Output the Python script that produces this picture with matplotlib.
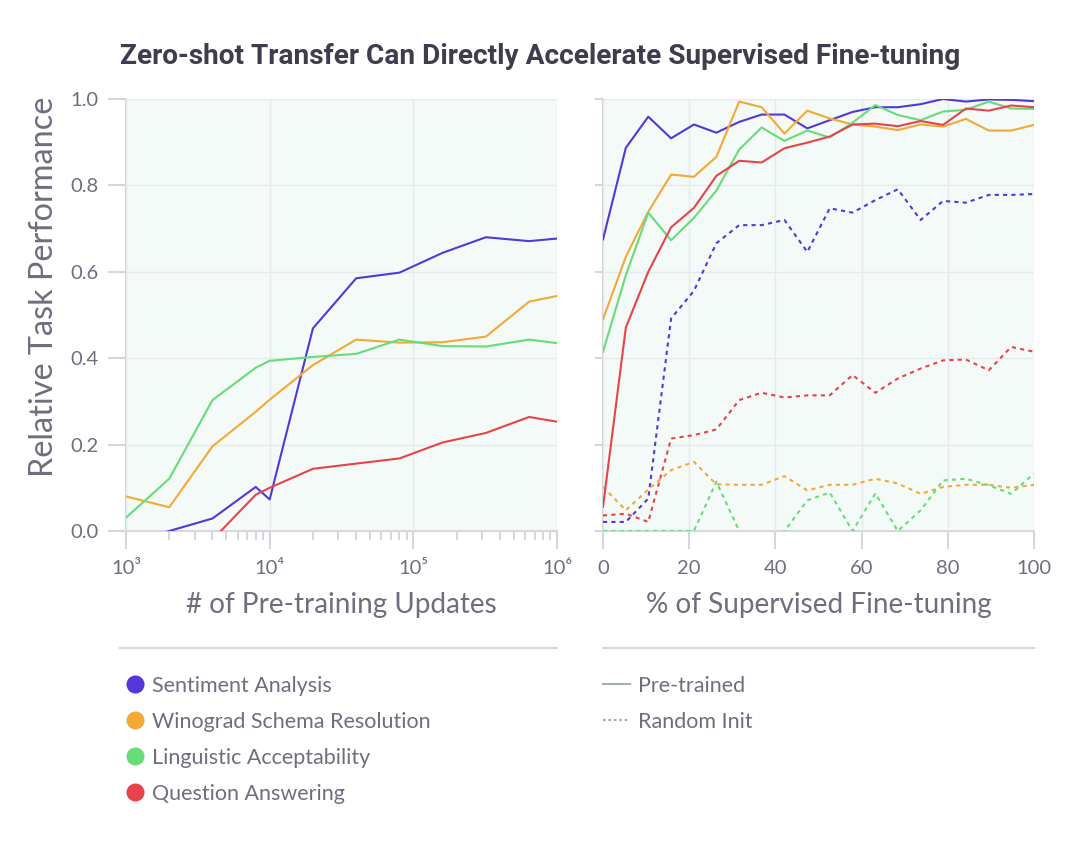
import numpy as np
import matplotlib
matplotlib.use("Agg")
import matplotlib.pyplot as plt
from matplotlib.lines import Line2D
from matplotlib.ticker import FixedLocator, FixedFormatter, LogLocator, NullFormatter

# ---------------- data ----------------
tasks = ["Sentiment Analysis", "Winograd Schema Resolution",
         "Linguistic Acceptability", "Question Answering"]
task_colors = ["#5436da", "#f4a935", "#68dc78", "#e8434a"]
init_labels = ["Pre-trained", "Random Init"]

title = "Zero-shot Transfer Can Directly Accelerate Supervised Fine-tuning"
ylabel = "Relative Task Performance"
xlabel_left = "# of Pre-training Updates"
xlabel_right = "% of Supervised Fine-tuning"

yticks = [0.0, 0.2, 0.4, 0.6, 0.8, 1.0]
ytick_labels = ["0.0", "0.2", "0.4", "0.6", "0.8", "1.0"]
xticks_left = [1e3, 1e4, 1e5, 1e6]
xtick_labels_left = ["10³", "10⁴", "10⁵", "10⁶"]
xticks_right = [0, 20, 40, 60, 80, 100]
xtick_labels_right = ["0", "20", "40", "60", "80", "100"]

# left panel: zero-shot performance vs. pre-training updates
pretrain_updates = [1000, 2000, 4000, 8000, 10000, 20000, 40000, 80000,
                    160000, 320000, 640000, 1000000]
zs_sentiment = [-0.03, 0.0, 0.029, 0.102, 0.073, 0.469, 0.585, 0.598, 0.644, 0.680, 0.671, 0.677]
zs_winograd = [0.080, 0.055, 0.196, 0.276, 0.304, 0.384, 0.443, 0.436, 0.437, 0.450, 0.531, 0.544]
zs_linguistic = [0.031, 0.121, 0.303, 0.378, 0.394, 0.403, 0.410, 0.443, 0.428, 0.427, 0.443, 0.435]
zs_qa = [-0.15, -0.08, -0.02, 0.084, 0.100, 0.144, 0.156, 0.168, 0.205, 0.227, 0.264, 0.253]

# right panel: performance vs. % of supervised fine-tuning
finetune_pct = [0, 5.3, 10.5, 15.8, 21.1, 26.3, 31.6, 36.8, 42.1, 47.4,
                52.6, 57.9, 63.2, 68.4, 73.7, 78.9, 84.2, 89.5, 94.7, 100]
pt_sentiment = [0.675, 0.887, 0.959, 0.909, 0.941, 0.922, 0.947, 0.964, 0.964, 0.932,
                0.951, 0.970, 0.981, 0.981, 0.988, 1.0, 0.994, 0.999, 0.998, 0.995]
pt_winograd = [0.490, 0.635, 0.739, 0.825, 0.820, 0.866, 0.994, 0.981, 0.920, 0.973,
               0.955, 0.941, 0.936, 0.928, 0.941, 0.936, 0.954, 0.927, 0.927, 0.940]
pt_linguistic = [0.415, 0.592, 0.737, 0.673, 0.725, 0.788, 0.883, 0.934, 0.903, 0.927,
                 0.911, 0.945, 0.986, 0.963, 0.951, 0.971, 0.975, 0.994, 0.978, 0.977]
pt_qa = [0.056, 0.471, 0.600, 0.703, 0.748, 0.822, 0.857, 0.853, 0.886, 0.899,
         0.913, 0.941, 0.943, 0.937, 0.949, 0.940, 0.978, 0.973, 0.985, 0.981]
ri_sentiment = [0.021, 0.021, 0.075, 0.492, 0.556, 0.666, 0.708, 0.708, 0.720, 0.646,
                0.747, 0.737, 0.766, 0.791, 0.720, 0.764, 0.760, 0.778, 0.778, 0.780]
ri_winograd = [0.102, 0.048, 0.096, 0.141, 0.160, 0.108, 0.107, 0.107, 0.127, 0.094,
               0.107, 0.107, 0.121, 0.110, 0.086, 0.102, 0.107, 0.107, 0.100, 0.107]
ri_linguistic = [0.0, 0.0, 0.0, 0.0, 0.0, 0.114, 0.0, -0.05, 0.0, 0.071,
                 0.089, 0.0, 0.087, 0.0, 0.048, 0.117, 0.121, 0.106, 0.086, 0.133]
ri_qa = [0.036, 0.040, 0.021, 0.214, 0.222, 0.235, 0.303, 0.320, 0.309, 0.314,
         0.314, 0.361, 0.320, 0.353, 0.376, 0.395, 0.397, 0.372, 0.426, 0.415]

zero_shot = [zs_sentiment, zs_winograd, zs_linguistic, zs_qa]
pretrained = [pt_sentiment, pt_winograd, pt_linguistic, pt_qa]
random_init = [ri_sentiment, ri_winograd, ri_linguistic, ri_qa]

# ---------------- style ----------------
W, H = 1080, 846
plt.rcParams['font.family'] = ['Lato', 'DejaVu Sans']
plt.rcParams['font.weight'] = 'normal'
TEXT = '#6e6e80'
TITLE_C = '#3d3d4e'
GRID = '#e8e9ee'
SPINE = '#d4d6dc'
BG = '#f3faf8'
LEG_LINE = '#a2b0ad'
LW = 1.5
DOT = (0, (2, 2))

fig = plt.figure(figsize=(W / 100, H / 100), dpi=100)
fig.patch.set_facecolor('white')


def fx(x):
    return x / W


def fy(y):
    return 1 - y / H


ax1 = fig.add_axes([fx(126), fy(531), 431 / W, 432 / H])
ax2 = fig.add_axes([fx(603), fy(531), 431 / W, 432 / H])

for ax in (ax1, ax2):
    ax.set_facecolor(BG)
    for s in ('top', 'right'):
        ax.spines[s].set_visible(False)
    for s in ('left', 'bottom'):
        ax.spines[s].set_color(SPINE)
        ax.spines[s].set_linewidth(1.5)
        ax.spines[s].set_zorder(0.5)
    ax.set_ylim(0, 1)
    ax.yaxis.set_major_locator(FixedLocator(yticks))
    ax.yaxis.set_major_formatter(FixedFormatter(ytick_labels))
    ax.grid(True, which='major', color=GRID, lw=1)
    ax.set_axisbelow(True)
    ax.tick_params(which='both', color=SPINE, labelcolor=TEXT, width=1.5,
                   labelsize=14.5)
    ax.tick_params(axis='x', which='major', length=13, pad=8)

# left panel
ax1.set_xscale('log')
ax1.set_xlim(1e3, 1e6)
ax1.xaxis.set_major_locator(FixedLocator(xticks_left))
ax1.xaxis.set_major_formatter(FixedFormatter(xtick_labels_left))
ax1.xaxis.set_minor_locator(LogLocator(base=10, subs=np.arange(2, 10)))
ax1.xaxis.set_minor_formatter(NullFormatter())
ax1.tick_params(axis='x', which='minor', length=6.5)
ax1.tick_params(axis='y', length=13, pad=7)
for vals, c in zip(zero_shot, task_colors):
    ax1.plot(pretrain_updates, vals, color=c, lw=LW, solid_joinstyle='round')

# right panel
ax2.set_xlim(0, 100)
ax2.xaxis.set_major_locator(FixedLocator(xticks_right))
ax2.xaxis.set_major_formatter(FixedFormatter(xtick_labels_right))
ax2.tick_params(axis='y', length=6, labelleft=False)
for vals, c in zip(random_init, task_colors):
    ax2.plot(finetune_pct, vals, color=c, lw=LW, linestyle=DOT)
for vals, c in zip(pretrained, task_colors):
    ax2.plot(finetune_pct, vals, color=c, lw=LW, solid_joinstyle='round')

# ---------------- texts ----------------
texts_to_fit = []
t_title = fig.text(fx(120), fy(64), title, ha='left', va='baseline',
                   fontsize=17, weight='bold', color=TITLE_C,
                   family=['Roboto', 'DejaVu Sans'])
texts_to_fit.append((t_title, 840, 'w'))
t_yl = fig.text(fx(53), fy(287), ylabel, rotation=90, rotation_mode='anchor',
                ha='center', va='baseline', fontsize=18, color=TEXT)
texts_to_fit.append((t_yl, 380, 'h'))
t_xl1 = fig.text(fx(341.5), fy(613), xlabel_left, ha='center', va='baseline',
                 fontsize=18, color=TEXT)
texts_to_fit.append((t_xl1, 310, 'w'))
t_xl2 = fig.text(fx(818.5), fy(613), xlabel_right, ha='center', va='baseline',
                 fontsize=18, color=TEXT)
texts_to_fit.append((t_xl2, 344, 'w'))

# separators
fig.add_artist(Line2D([fx(120), fx(557)], [fy(648), fy(648)], color=SPINE, lw=1.5))
fig.add_artist(Line2D([fx(603), fx(1034)], [fy(648), fy(648)], color=SPINE, lw=1.5))

# legends
rows = [684, 720, 756, 792]
leg_texts = []
for name, c, r in zip(tasks, task_colors, rows):
    fig.add_artist(Line2D([fx(135)], [fy(r)], marker='o', markersize=13,
                          markerfacecolor=c, markeredgecolor='none', lw=0))
    leg_texts.append(fig.text(fx(152), fy(r + 8), name, ha='left', va='baseline',
                              fontsize=14, color=TEXT))
styles = ['-', (0, (1.3, 1.3))]
for name, ls, r in zip(init_labels, styles, rows[:2]):
    fig.add_artist(Line2D([fx(603), fx(630)], [fy(r), fy(r)], color=LEG_LINE,
                          lw=1.5, linestyle=ls))
    leg_texts.append(fig.text(fx(638), fy(r + 8), name, ha='left', va='baseline',
                              fontsize=14, color=TEXT))
texts_to_fit.append((leg_texts[1], 280, 'w'))

fig.canvas.draw()
rend = fig.canvas.get_renderer()
for t, target, dim in texts_to_fit:
    bb = t.get_window_extent(rend)
    cur = bb.width if dim == 'w' else bb.height
    t.set_fontsize(t.get_fontsize() * target / cur)
legsize = leg_texts[1].get_fontsize()
for t in leg_texts:
    t.set_fontsize(legsize)

fig.savefig("out.png", dpi=100, facecolor='white')
